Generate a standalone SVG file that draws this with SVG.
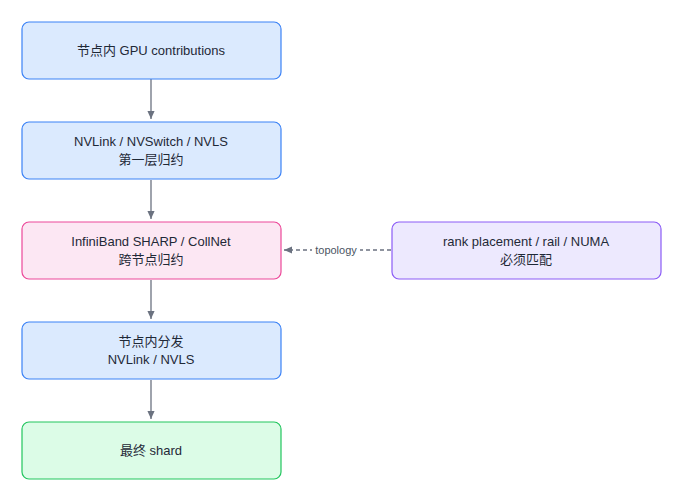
<svg xmlns="http://www.w3.org/2000/svg" width="684" height="502" viewBox="0 0 684 502">
<style>
text{font-family:"Liberation Sans","Noto Sans CJK SC",sans-serif;font-size:13px;fill:#1f2937;text-anchor:middle}
.c{stroke:#6b7280;stroke-width:1.3;fill:none}
</style>
<defs><marker id="a" viewBox="0 0 10 10" refX="9" refY="5" markerWidth="7" markerHeight="7" orient="auto"><path d="M0,1 L9,5 L0,9 Z" fill="#6b7280"/></marker></defs>
<rect width="684" height="502" fill="#fff"/>
<g id="connectors">
<path class="c" d="M151,79 V119" marker-end="url(#a)"/>
<path class="c" d="M151,180 V219" marker-end="url(#a)"/>
<path class="c" d="M151,280 V319" marker-end="url(#a)"/>
<path class="c" d="M151,380 V419" marker-end="url(#a)"/>
<path class="c" d="M391,250 H284" stroke-dasharray="4 3" marker-end="url(#a)"/>
<rect x="312" y="243" width="48" height="14" fill="#fff"/>
<text x="336" y="254" style="font-size:11px;fill:#4b5563">topology</text>
</g>
<g id="n1"><rect x="22" y="22" width="259" height="57" rx="7" fill="#dbeafe" stroke="#3b82f6" stroke-width="1.2"/><text x="151" y="55">节点内 GPU contributions</text></g>
<g id="n2"><rect x="22" y="122" width="259" height="57" rx="7" fill="#dbeafe" stroke="#3b82f6" stroke-width="1.2"/><text x="151" y="146">NVLink / NVSwitch / NVLS</text><text x="151" y="164">第一层归约</text></g>
<g id="n3"><rect x="22" y="222" width="259" height="57" rx="7" fill="#fce7f3" stroke="#ec4899" stroke-width="1.2"/><text x="151" y="246">InfiniBand SHARP / CollNet</text><text x="151" y="264">跨节点归约</text></g>
<g id="n4"><rect x="392" y="222" width="269" height="57" rx="7" fill="#ede9fe" stroke="#8b5cf6" stroke-width="1.2"/><text x="526" y="246">rank placement / rail / NUMA</text><text x="526" y="264">必须匹配</text></g>
<g id="n5"><rect x="22" y="322" width="259" height="57" rx="7" fill="#dbeafe" stroke="#3b82f6" stroke-width="1.2"/><text x="151" y="346">节点内分发</text><text x="151" y="364">NVLink / NVLS</text></g>
<g id="n6"><rect x="22" y="422" width="259" height="57" rx="7" fill="#dcfce7" stroke="#22c55e" stroke-width="1.2"/><text x="151" y="455">最终 shard</text></g>
</svg>
